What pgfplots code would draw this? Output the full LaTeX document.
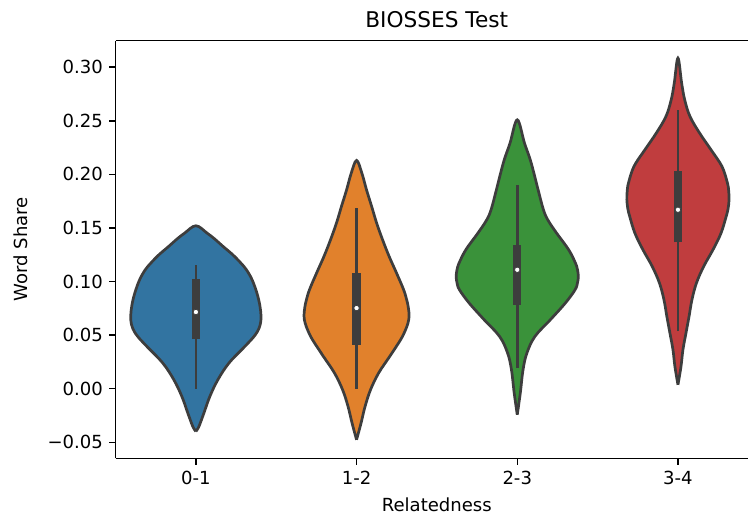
\documentclass[border=0pt]{standalone}
\usepackage{pgfplots}
\usepackage{pgfplotstable}
\pgfplotsset{compat=1.18}
\usepackage{fontspec}
\setmainfont{DejaVu Sans}

\definecolor{vblue}{HTML}{3274A1}
\definecolor{vorange}{HTML}{E1812C}
\definecolor{vgreen}{HTML}{3A923A}
\definecolor{vred}{HTML}{C03D3E}
\definecolor{vgray}{HTML}{3D3D3D}

% violin outlines: y value, signed half width (right side up, left side down)
\pgfplotstableread{
y w
-0.0398 0
-0.0352 0.019
-0.0227 0.050
-0.0072 0.087
0.0084 0.137
0.0240 0.206
0.0395 0.305
0.0488 0.362
0.0560 0.392
0.0628 0.404
0.0690 0.405
0.0780 0.398
0.0893 0.380
0.1017 0.350
0.1110 0.315
0.1173 0.280
0.1250 0.230
0.1327 0.170
0.1400 0.115
0.1452 0.070
0.1521 0
0.1452 -0.070
0.1400 -0.115
0.1327 -0.170
0.1250 -0.230
0.1173 -0.280
0.1110 -0.315
0.1017 -0.350
0.0893 -0.380
0.0780 -0.398
0.0690 -0.405
0.0628 -0.404
0.0560 -0.392
0.0488 -0.362
0.0395 -0.305
0.0240 -0.206
0.0084 -0.137
-0.0072 -0.087
-0.0227 -0.050
-0.0352 -0.019
-0.0398 0
}\vA

\pgfplotstableread{
y w
-0.0476 0
-0.0320 0.028
-0.0165 0.053
-0.0009 0.087
0.0146 0.137
0.0301 0.206
0.0457 0.274
0.0540 0.302
0.0613 0.320
0.0680 0.327
0.0760 0.322
0.0830 0.312
0.0924 0.293
0.1079 0.249
0.1234 0.203
0.1390 0.162
0.1546 0.125
0.1701 0.094
0.1856 0.062
0.2012 0.033
0.2130 0
0.2012 -0.033
0.1856 -0.062
0.1701 -0.094
0.1546 -0.125
0.1390 -0.162
0.1234 -0.203
0.1079 -0.249
0.0924 -0.293
0.0830 -0.312
0.0760 -0.322
0.0680 -0.327
0.0613 -0.320
0.0540 -0.302
0.0457 -0.274
0.0301 -0.206
0.0146 -0.137
-0.0009 -0.087
-0.0165 -0.053
-0.0320 -0.028
-0.0476 0
}\vB

\pgfplotstableread{
y w
-0.0243 0
-0.0040 0.019
0.0177 0.036
0.0333 0.060
0.0488 0.110
0.0644 0.206
0.0799 0.299
0.0924 0.360
0.0990 0.375
0.1048 0.380
0.1110 0.375
0.1173 0.362
0.1297 0.320
0.1452 0.245
0.1576 0.190
0.1670 0.163
0.1826 0.135
0.1980 0.109
0.2136 0.081
0.2292 0.045
0.2509 0
0.2292 -0.045
0.2136 -0.081
0.1980 -0.109
0.1826 -0.135
0.1670 -0.163
0.1576 -0.190
0.1452 -0.245
0.1297 -0.320
0.1173 -0.362
0.1110 -0.375
0.1048 -0.380
0.0990 -0.375
0.0924 -0.360
0.0799 -0.299
0.0644 -0.206
0.0488 -0.110
0.0333 -0.060
0.0177 -0.036
-0.0040 -0.019
-0.0243 0
}\vC

\pgfplotstableread{
y w
0.0037 0
0.0208 0.019
0.0364 0.031
0.0520 0.050
0.0674 0.069
0.0830 0.087
0.0986 0.115
0.1141 0.160
0.1297 0.218
0.1452 0.268
0.1607 0.300
0.1680 0.312
0.1763 0.318
0.1840 0.316
0.1919 0.308
0.2074 0.274
0.2229 0.206
0.2385 0.135
0.2540 0.075
0.2696 0.042
0.2852 0.023
0.3085 0
0.2852 -0.023
0.2696 -0.042
0.2540 -0.075
0.2385 -0.135
0.2229 -0.206
0.2074 -0.274
0.1919 -0.308
0.1840 -0.316
0.1763 -0.318
0.1680 -0.312
0.1607 -0.300
0.1452 -0.268
0.1297 -0.218
0.1141 -0.160
0.0986 -0.115
0.0830 -0.087
0.0674 -0.069
0.0520 -0.050
0.0364 -0.031
0.0208 -0.019
0.0037 0
}\vD

\begin{document}
\begin{tikzpicture}
% frame of the picture
\path (-64pt,-31.85pt) rectangle (350.35pt,253.95pt);
\begin{axis}[
    at={(0,0)}, anchor=south west,
    scale only axis,
    width=350.6pt, height=231.5pt,
    % the reference is cut just before the right spine
    xmin=-0.5, xmax=3.4376,
    ymin=-0.0649, ymax=0.3249,
    axis x line=box, axis y line=left,
    axis line style={-, black, line width=0.8pt},
    xtick={0,1,2,3},
    xticklabels={0-1,1-2,2-3,3-4},
    ytick={-0.05,0,0.05,0.1,0.15,0.2,0.25,0.3},
    yticklabels={−0.05,0.00,0.05,0.10,0.15,0.20,0.25,0.30},
    tick align=outside,
    major tick length=3.5pt,
    every tick/.style={black, line width=0.8pt},
    xtick pos=bottom, ytick pos=left,
    tick label style={font=\fontsize{10}{12}\selectfont},
    label style={font=\fontsize{10}{12}\selectfont, inner sep=0pt},
    xlabel={Relatedness},
    ylabel={Word Share},
    xlabel style={at={(axis description cs:0.5077,-0.110)}, anchor=center},
    ylabel style={at={(axis description cs:-0.149,0.5)}, anchor=center},
    title={BIOSSES Test},
    every axis title shift=0pt,
    title style={at={(axis description cs:0.5077,1.049)}, anchor=center, inner sep=0pt, font=\fontsize{12}{14}\selectfont},
]
% violins
\addplot[fill=vblue, draw=vgray, line width=1.5pt, smooth, tension=0.6] table[x expr=\thisrow{w}+0, y=y] {\vA};
\addplot[fill=vorange, draw=vgray, line width=1.5pt, smooth, tension=0.6] table[x expr=\thisrow{w}+1, y=y] {\vB};
\addplot[fill=vgreen, draw=vgray, line width=1.5pt, smooth, tension=0.6] table[x expr=\thisrow{w}+2, y=y] {\vC};
\addplot[fill=vred, draw=vgray, line width=1.5pt, smooth, tension=0.6] table[x expr=\thisrow{w}+3, y=y] {\vD};

% whiskers
\addplot[vgray, line width=1.5pt] coordinates {(0,0.0) (0,0.115)};
\addplot[vgray, line width=1.5pt] coordinates {(1,0.0) (1,0.1686)};
\addplot[vgray, line width=1.5pt] coordinates {(2,0.0193) (2,0.1903)};
\addplot[vgray, line width=1.5pt] coordinates {(3,0.0535) (3,0.2603)};

% boxes (interquartile range)
\addplot[vgray, line width=4.5pt] coordinates {(0,0.0464) (0,0.1023)};
\addplot[vgray, line width=4.5pt] coordinates {(1,0.041) (1,0.108)};
\addplot[vgray, line width=4.5pt] coordinates {(2,0.0784) (2,0.1343)};
\addplot[vgray, line width=4.5pt] coordinates {(3,0.1365) (3,0.2027)};

% medians
\addplot[only marks, mark=*, mark size=1.5pt, mark options={fill=white, draw=vgray, line width=0.4pt}]
    coordinates {(0,0.0716) (1,0.0753) (2,0.111) (3,0.167)};
\end{axis}
\end{tikzpicture}
\end{document}
